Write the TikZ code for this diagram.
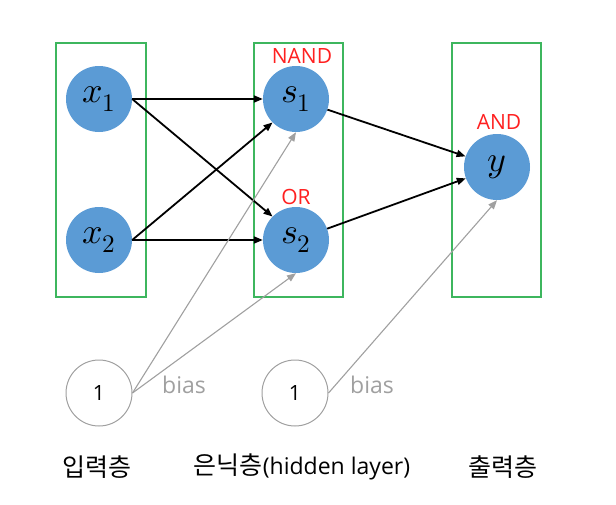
\documentclass[tikz,border=0pt]{standalone}
\usepackage{fontspec}
\usepackage{unicode-math}
\setmainfont{Open Sans}
\setmathfont{Latin Modern Math}
\newfontfamily\krfont{Noto Sans CJK KR}
\usetikzlibrary{arrows.meta}
\definecolor{nodeblue}{HTML}{5B9BD5}
\definecolor{boxgreen}{HTML}{3DB65E}
\definecolor{lblred}{HTML}{FF2020}
\definecolor{biasgray}{HTML}{A0A0A0}
\begin{document}
\begin{tikzpicture}[x=1pt,y=-1pt,
  neuron/.style={circle,fill=nodeblue,minimum size=66pt,inner sep=0pt,
    font=\fontsize{36}{36}\selectfont},
  biasnode/.style={circle,draw=biasgray,line width=1pt,minimum size=66pt,inner sep=0pt,
    font=\fontsize{21}{21}\selectfont},
  layerbox/.style={draw=boxgreen,line width=1.5pt},
  gate/.style={text=lblred,font=\fontsize{21}{21}\selectfont,inner sep=0pt},
  conn/.style={line width=1.8pt,-{Triangle[length=9pt,width=7pt]}},
  biasconn/.style={draw=biasgray,line width=1.1pt,-{Triangle[length=9pt,width=7pt]}},
  biaslbl/.style={text=biasgray,font=\fontsize{23}{23}\selectfont,inner sep=0pt},
  layerlbl/.style={font=\fontsize{23}{23}\selectfont,inner sep=0pt}]
\useasboundingbox (0,0) rectangle (616,504);
\draw[layerbox] (56,43) rectangle (146,297);
\draw[layerbox] (254,43) rectangle (343,297);
\draw[layerbox] (452,43) rectangle (541,297);
\node[neuron] (x1) at (99,99) {$x_1$};
\node[neuron] (x2) at (99,240) {$x_2$};
\node[neuron] (s1) at (296,99) {$s_1$};
\node[neuron] (s2) at (296,240) {$s_2$};
\node[neuron] (y) at (497,167) {$y$};
\node[gate] (nand) at (302,56) {NAND};
\node[gate] (or) at (296,197) {OR};
\node[gate] (and) at (499,122) {AND};
\node[biasnode] (b1) at (99,393) {1};
\node[biasnode] (b2) at (295,393) {1};
\node[biaslbl] (bl1) at (184,385) {bias};
\node[biaslbl] (bl2) at (372,385) {bias};
\node[layerlbl] (l1) at (97,467) {\fontsize{25}{25}\krfont 입력층};
\node[layerlbl] (l2) at (302,467) {{\fontsize{25}{25}\krfont 은닉층}(hidden layer)};
\node[layerlbl] (l3) at (503,467) {\fontsize{25}{25}\krfont 출력층};
\draw[conn] (x1.east) -- (s1.west);
\draw[conn] (x1.east) -- (s2.north west);
\draw[conn] (x2.east) -- (s1.south west);
\draw[conn] (x2.east) -- (s2.west);
\draw[conn] (s1) -- (y);
\draw[conn] (s2) -- (y);
\draw[biasconn] (b1.east) -- (s1.south);
\draw[biasconn] (b1.east) -- (s2.south);
\draw[biasconn] (b2.east) -- (y.south);
\end{tikzpicture}
\end{document}
